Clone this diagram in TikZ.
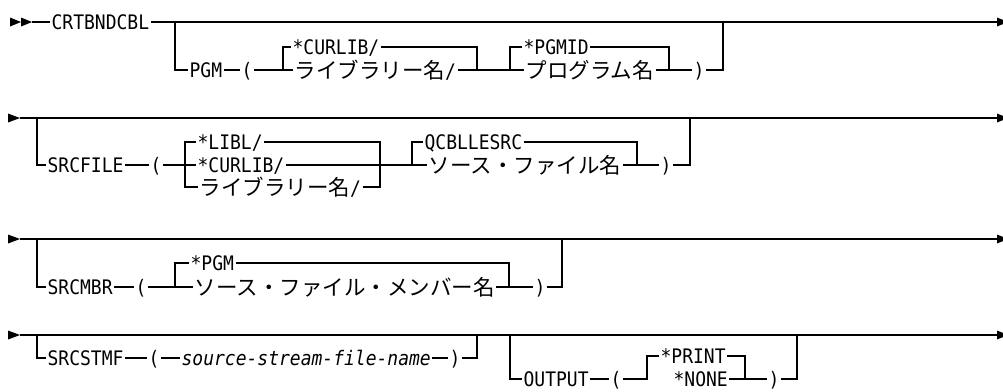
\documentclass[tikz,border=0pt]{standalone}
\usepackage{fontspec}
\newfontfamily\kwfont[FakeStretch=0.9]{DejaVu Sans Mono}
\newfontfamily\jpfont{Noto Sans CJK JP}
\usetikzlibrary{positioning}
\newcommand\kwslash{{\fontsize{20}{22}\kwfont/}}
\tikzset{
  kw/.style={anchor=west, inner xsep=1pt, inner ysep=0pt, text height=14.6pt, text depth=0pt, font=\fontsize{20}{22}\kwfont},
  var/.style={kw, font=\fontsize{20}{22}\kwfont\itshape},
  jp/.style={kw, text height=16.4pt, font=\fontsize{21.5}{24}\jpfont},
  tip/.style={fill=black}
}

\begin{document}
\begin{tikzpicture}[x=1pt,y=-1pt,line width=1.2pt]
    \useasboundingbox (0,0) rectangle (1003,391);
    % CRTBNDCBL, PGM
    \fill[tip] (10,17.5) -- (21,22) -- (10,26.5) -- cycle;
    \fill[tip] (21,17.5) -- (32,22) -- (21,26.5) -- cycle;
    \coordinate (r1s) at (32,22);
    \coordinate (r1e) at (1000,22);
    \node[kw] (crt) at (50,22) {CRTBNDCBL};
    \coordinate (r1j1) at (175,22);
    \node[kw] (pgm) at (188,70) {PGM};
    \node[kw] (lp1) at (240,70) {(};
    \coordinate (r1a) at (283,70);
    \node[kw] (curlib1) at (291,47) {*CURLIB/};
    \node[jp] (lib1) at (293,70) {ライブラリー名\kwslash};
    \coordinate (r1b) at (477,70);
    \coordinate (r1c) at (510,70);
    \node[kw] (pgmid) at (522,47) {*PGMID};
    \node[jp] (pgmnm) at (524,70) {プログラム名};
    \coordinate (r1d) at (669,70);
    \node[kw] (rp1) at (692,70) {)};
    \coordinate (r1j2) at (723,22);
    \draw (r1s) -- (crt.west);
    \draw (crt.east) -- (r1e);
    \draw (r1j1) |- (pgm.west);
    \draw (pgm.east) -- (lp1.west);
    \draw (lp1.east) -- (lib1.west);
    \draw (r1a) |- (curlib1.west);
    \draw (curlib1.east) -| (r1b);
    \draw (lib1.east) -- (pgmnm.west);
    \draw (r1c) |- (pgmid.west);
    \draw (pgmid.east) -| (r1d);
    \draw (pgmnm.east) -- (rp1.west);
    \draw (rp1.east) -| (r1j2);
    % SRCFILE
    \coordinate (r2s) at (20,118);
    \coordinate (r2e) at (1000,118);
    \coordinate (r2j1) at (37,118);
    \node[kw] (srcfile) at (46,165) {SRCFILE};
    \node[kw] (lp2) at (149,165) {(};
    \coordinate (r2a) at (185,165);
    \node[kw] (libl) at (196,142) {*LIBL/};
    \node[kw] (curlib2) at (196,165) {*CURLIB/};
    \node[jp] (lib2) at (198,187) {ライブラリー名\kwslash};
    \coordinate (r2b) at (380,165);
    \coordinate (r2c) at (412,165);
    \node[kw] (qcbl) at (423,142) {QCBLLESRC};
    \node[jp] (srcnm) at (427,165) {ソース・ファイル名};
    \coordinate (r2d) at (637,165);
    \node[kw] (rp2) at (659,165) {)};
    \coordinate (r2j2) at (690,118);
    \draw (r2s) -- (r2e);
    \draw (r2j1) |- (srcfile.west);
    \draw (srcfile.east) -- (lp2.west);
    \draw (lp2.east) -- (curlib2.west);
    \draw (r2a) |- (libl.west);
    \draw (r2a) |- (lib2.west);
    \draw (libl.east) -| (r2b);
    \draw (lib2.east) -| (r2b);
    \draw (curlib2.east) -- (srcnm.west);
    \draw (r2c) |- (qcbl.west);
    \draw (qcbl.east) -| (r2d);
    \draw (srcnm.east) -- (rp2.west);
    \draw (rp2.east) -| (r2j2);
    % SRCMBR
    \coordinate (r3s) at (20,239);
    \coordinate (r3e) at (1000,239);
    \coordinate (r3j1) at (37,239);
    \node[kw] (srcmbr) at (46,287) {SRCMBR};
    \node[kw] (lp3) at (134,287) {(};
    \coordinate (r3a) at (175,287);
    \node[kw] (pgm3) at (189,263) {*PGM};
    \node[jp] (mbrnm) at (193,287) {ソース・ファイル・メンバー名};
    \coordinate (r3b) at (509,287);
    \node[kw] (rp3) at (533,287) {)};
    \coordinate (r3j2) at (562,239);
    \draw (r3s) -- (r3e);
    \draw (r3j1) |- (srcmbr.west);
    \draw (srcmbr.east) -- (lp3.west);
    \draw (lp3.east) -- (mbrnm.west);
    \draw (r3a) |- (pgm3.west);
    \draw (pgm3.east) -| (r3b);
    \draw (mbrnm.east) -- (rp3.west);
    \draw (rp3.east) -| (r3j2);
    % SRCSTMF, OUTPUT
    \coordinate (r4s) at (20,335);
    \coordinate (r4e) at (1000,335);
    \coordinate (r4j1) at (37,335);
    \node[kw] (srcstmf) at (46,358) {SRCSTMF};
    \node[kw] (lp4a) at (147,358) {(};
    \node[var] (sfn) at (180,358) {source-stream-file-name};
    \node[kw] (rp4a) at (448,358) {)};
    \coordinate (r4j2) at (477,335);
    \coordinate (r4j3) at (510,335);
    \node[kw] (output) at (522,379) {OUTPUT};
    \node[kw] (lp4b) at (609,379) {(};
    \coordinate (r4a) at (647,379);
    \node[kw] (print) at (659,356) {*PRINT};
    \node[kw] (none) at (672,379) {*NONE};
    \coordinate (r4b) at (745,379);
    \node[kw] (rp4b) at (767,379) {)};
    \coordinate (r4j4) at (797,335);
    \draw (r4s) -- (r4e);
    \draw (r4j1) |- (srcstmf.west);
    \draw (srcstmf.east) -- (lp4a.west);
    \draw (lp4a.east) -- (sfn.west);
    \draw (sfn.east) -- (rp4a.west);
    \draw (rp4a.east) -| (r4j2);
    \draw (r4j3) |- (output.west);
    \draw (output.east) -- (lp4b.west);
    \draw (lp4b.east) -- (r4a) |- (print.west);
    \draw (print.east) -| (r4b);
    \draw (none.east) -- (rp4b.west);
    \draw (rp4b.east) -| (r4j4);
    % row markers
    \foreach \y in {118,239,335}
      \fill[tip] (8,\y-4.5) -- (20,\y) -- (8,\y+4.5) -- cycle;
    \foreach \y in {22,118,239,335}
      \fill[tip] (997,\y-4.5) -- (1008,\y) -- (997,\y+4.5) -- cycle;
\end{tikzpicture}
\end{document}
